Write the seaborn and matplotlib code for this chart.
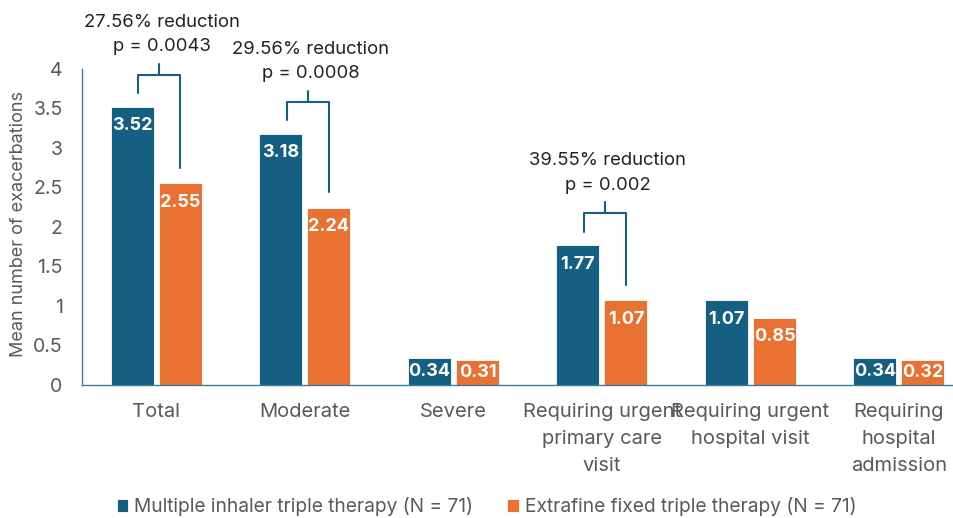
import matplotlib
matplotlib.use("Agg")
import matplotlib.pyplot as plt
import seaborn as sns
import pandas as pd

# chart data
categories = ["Total", "Moderate", "Severe",
              "Requiring urgent\nprimary care\nvisit",
              "Requiring urgent\nhospital visit",
              "Requiring\nhospital\nadmission"]
groups = ["Multiple inhaler triple therapy (N = 71)",
          "Extrafine fixed triple therapy (N = 71)"]
multiple_inhaler = [3.52, 3.18, 0.34, 1.77, 1.07, 0.34]
extrafine_fixed = [2.55, 2.24, 0.31, 1.07, 0.85, 0.32]

# significance brackets
bracket_idx = [0, 1, 3]
reductions = ["27.56% reduction", "29.56% reduction", "39.55% reduction"]
p_values = ["p = 0.0043", "p = 0.0008", "p = 0.002"]

blue = "#156082"
orange = "#E97132"
grey = "#595959"

df = pd.DataFrame({
    "category": categories * 2,
    "group": [groups[0]] * len(categories) + [groups[1]] * len(categories),
    "value": multiple_inhaler + extrafine_fixed,
})

sns.set_style("white")
plt.rcParams["font.family"] = ["Inter", "DejaVu Sans"]

fig = plt.figure(figsize=(9.54, 5.18), dpi=100)
ax = fig.add_axes([0.086, 0.257, 0.934, 0.61])

sns.barplot(data=df, x="category", y="value", hue="group",
            palette=[blue, orange], saturation=1, width=0.65, gap=0.11,
            edgecolor="white", linewidth=0.6, ax=ax, legend=True)

ax.set_xlim(-0.5, 5.5)
ax.set_ylim(0, 4)
yt = [i * 0.5 for i in range(9)]
ax.set_yticks(yt)
ax.set_yticklabels([f"{t:g}" for t in yt], fontsize=14, color=grey)
ax.set_xticks(range(len(categories)))
ax.set_xticklabels(categories, fontsize=14.5, color=grey)
for t in ax.get_xticklabels():
    t.set_linespacing(1.65)
ax.tick_params(axis="both", length=0)
ax.tick_params(axis="x", pad=13)
ax.tick_params(axis="y", pad=14)
ax.set_xlabel("")
ax.set_ylabel("Mean number of exacerbations", fontsize=13, color=grey)
ax.yaxis.set_label_coords(-0.062, 0.51)

for side in ["top", "right"]:
    ax.spines[side].set_visible(False)
for side in ["left", "bottom"]:
    ax.spines[side].set_color("#3A7CA0")
    ax.spines[side].set_linewidth(1.0)

# value labels inside bars
for p in ax.patches:
    h = p.get_height()
    if h <= 0:
        continue
    y = max(h - 0.24, h / 2)
    ax.text(p.get_x() + p.get_width() / 2, y, f"{h:.2f}",
            ha="center", va="center", color="white",
            fontsize=13, fontweight="bold")

# brackets
for i, red, pv in zip(bracket_idx, reductions, p_values):
    b = multiple_inhaler[i]
    o = extrafine_fixed[i]
    top = b + 0.4
    xl, xr, xm = i - 0.12, i + 0.16, i + 0.02
    ax.plot([xl, xl, xr, xr], [b + 0.17, top, top, o + 0.2],
            color=blue, lw=1.5, clip_on=False)
    ax.plot([xm, xm], [top, top + 0.14], color=blue, lw=1.5, clip_on=False)
    ax.text(i + 0.04, top + 0.36, pv, ha="center", va="center",
            fontsize=13.3, color="#222222")
    ax.text(i + 0.04, top + 0.67, red, ha="center", va="center",
            fontsize=13.3, color="#222222")

handles, labels = ax.get_legend_handles_labels()
ax.get_legend().remove()
fig.legend(handles, labels, loc="lower center", bbox_to_anchor=(0.51, -0.03),
           ncol=2, frameon=False, fontsize=13.8, handlelength=0.6,
           handleheight=0.6, handletextpad=0.3, columnspacing=1.8,
           labelcolor=grey)

fig.savefig("out.png", dpi=100)
